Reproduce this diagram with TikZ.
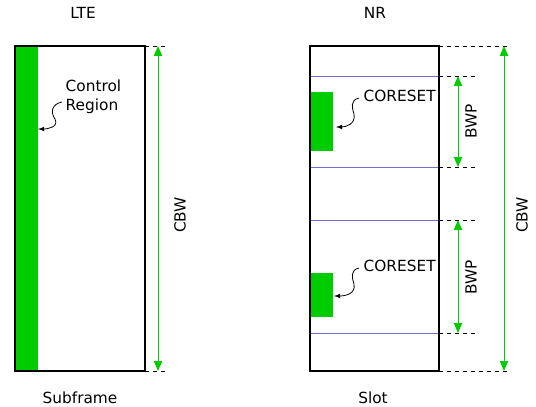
\documentclass[tikz,border=0pt]{standalone}
\usepackage{fontspec}
\setmainfont{DejaVu Sans}
\usetikzlibrary{arrows,positioning,calc}
\definecolor{myGreen}{HTML}{00CC00}
\definecolor{myBlue}{HTML}{7070D0}

\begin{document}
\begin{tikzpicture}
[
x=0.75pt, y=-0.75pt,
every node/.style={font=\fontsize{11.5}{14}\selectfont},
frame/.style={draw=black, line width=0.8pt},
ctrl/.style={fill=myGreen, draw=none},
part/.style={draw=myBlue, line width=0.6pt},
guide/.style={draw=black, dashed, line width=0.5pt},
dim/.style={myGreen, line width=0.7pt, >=triangle 45, <->},
pointer/.style={black, line width=0.6pt, >=latex, ->},
]
\useasboundingbox (0,0) rectangle (536,407);

% LTE
\fill[ctrl] (15,46) rectangle (38,371);
\draw[frame] (15,46) rectangle (145,371);
\coordinate (lteTR) at (145,46);
\coordinate (lteBR) at (145,371);
\coordinate (lteTD) at (167,46);
\coordinate (lteBD) at (167,371);
\draw[guide] (lteTR) -- (lteTD);
\draw[guide] (lteBR) -- (lteBD);
\coordinate (lteTop) at (158,46);
\coordinate (lteBot) at (158,371);
\draw[dim] (lteTop) -- (lteBot);
\node[rotate=90] (lteCBW) at (180,215) {CBW};
\node (lte) at (83,13) {LTE};
\node (subframe) at (80,398) {Subframe};
\node[align=left, anchor=west] (ctrlText) at (61,97) {Control\\Region};
\coordinate (ctrlTip) at (38,129);
\draw[pointer] ($(ctrlText.west)+(1,5)$) .. controls (52,104) and (50,112) .. (55,119)
  .. controls (59,127) and (48,129) .. (ctrlTip);

% NR
\fill[ctrl] (310,92) rectangle (333,151);
\fill[ctrl] (310,273) rectangle (333,317);
\foreach \y in {76,167,220,333}
  \draw[part] (310,\y) -- (439,\y);
\draw[frame] (310,46) rectangle (439,371);
\foreach \y/\len in {46/510,76/478,167/478,220/478,333/478,371/510}
  \draw[guide] (439,\y) -- (\len,\y);
\coordinate (bwpOneTop) at (458,76);
\coordinate (bwpOneBot) at (458,167);
\coordinate (bwpTwoTop) at (458,220);
\coordinate (bwpTwoBot) at (458,333);
\coordinate (nrTop) at (504,46);
\coordinate (nrBot) at (504,371);
\draw[dim] (bwpOneTop) -- (bwpOneBot);
\draw[dim] (bwpTwoTop) -- (bwpTwoBot);
\draw[dim] (nrTop) -- (nrBot);
\node[rotate=90] (bwpOne) at (471,121) {BWP};
\node[rotate=90] (bwpTwo) at (471,277) {BWP};
\node[rotate=90] (nrCBW) at (522,215) {CBW};
\node (nr) at (375,13) {NR};
\node (slot) at (373,398) {Slot};

\node[anchor=west] (coresetOne) at (359,96) {CORESET};
\node[anchor=west] (coresetTwo) at (359,266) {CORESET};
\coordinate (coreOneTip) at (336,127);
\coordinate (coreTwoTip) at (334,296);
\draw[pointer] ($(coresetOne.west)+(0,2)$) .. controls (350,100) and (352,108) .. (354,114)
  .. controls (356,124) and (346,127) .. (coreOneTip);
\draw[pointer] ($(coresetTwo.west)+(0,2)$) .. controls (350,270) and (352,278) .. (354,284)
  .. controls (356,294) and (345,296) .. (coreTwoTip);

\end{tikzpicture}
\end{document}
